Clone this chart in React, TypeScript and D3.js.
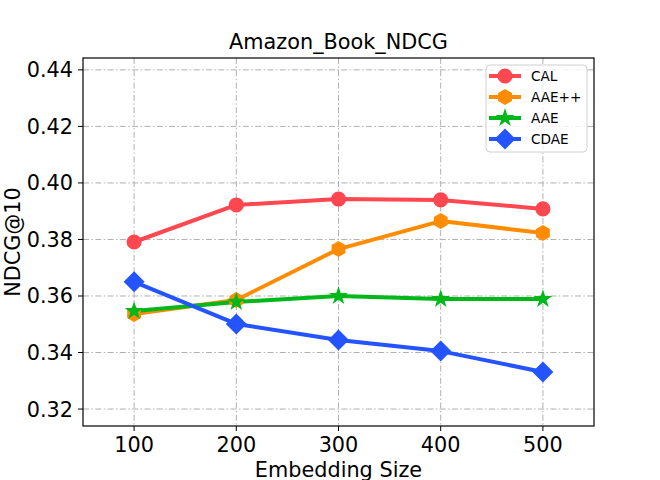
import React from "react";
import * as d3 from "d3";

const sizes = [100, 200, 300, 400, 500];
const calValues = [0.3791, 0.3922, 0.3943, 0.394, 0.3908];
const aaePPValues = [0.3536, 0.3586, 0.3766, 0.3865, 0.3823];
const aaeValues = [0.3547, 0.3579, 0.36, 0.3589, 0.3589];
const cdaeValues = [0.365, 0.3501, 0.3444, 0.3405, 0.3331];
const yTicks = [0.32, 0.34, 0.36, 0.38, 0.4, 0.42, 0.44];

const series = [
  { name: "CAL", values: calValues, color: "#ff474f", marker: "circle" },
  { name: "AAE++", values: aaePPValues, color: "#ff8c00", marker: "hexagon" },
  { name: "AAE", values: aaeValues, color: "#00b81a", marker: "star" },
  { name: "CDAE", values: cdaeValues, color: "#2454ff", marker: "diamond" },
];

const W = 660;
const H = 480;
const margin = { top: 58, right: 66, bottom: 54, left: 83 };
const font = "DejaVu Sans, sans-serif";
const fs = 20.8;

function markerPath(type: string): string {
  if (type === "circle") return d3.symbol(d3.symbolCircle, 180)()!;
  if (type === "star") return d3.symbol(d3.symbolStar, 110)()!;
  if (type === "diamond") {
    const r = 10.5;
    return `M0,${-r}L${r},0L0,${r}L${-r},0Z`;
  }
  // hexagon, pointy top
  const r = 8;
  const pts = d3.range(6).map((i) => {
    const a = (Math.PI / 3) * i - Math.PI / 2;
    return [r * Math.cos(a), r * Math.sin(a)];
  });
  return "M" + pts.map((p) => p.join(",")).join("L") + "Z";
}

export default function App() {
  const x = d3.scaleLinear().domain([50, 550]).range([margin.left, W - margin.right]);
  const y = d3.scaleLinear().domain([0.314, 0.4442]).range([H - margin.bottom, margin.top]);
  const line = d3
    .line<number>()
    .x((_, i) => x(sizes[i]))
    .y((d) => y(d));

  const grid = "6,2.4,1.5,2.4";

  return (
    <svg width={W} height={H} style={{ position: "absolute", left: 0, top: 0 }} fontFamily={font}>
      <rect width={W} height={H} fill="#fff" />
      {/* grid */}
      {sizes.map((s) => (
        <line key={"gx" + s} x1={x(s)} x2={x(s)} y1={margin.top} y2={H - margin.bottom}
          stroke="#b0b0b0" strokeWidth={1} strokeDasharray={grid} />
      ))}
      {yTicks.map((t) => (
        <line key={"gy" + t} x1={margin.left} x2={W - margin.right} y1={y(t)} y2={y(t)}
          stroke="#b0b0b0" strokeWidth={1} strokeDasharray={grid} />
      ))}
      {/* lines */}
      {series.map((s) => (
        <path key={s.name} d={line(s.values)!} fill="none" stroke={s.color} strokeWidth={4}
          strokeLinejoin="round" />
      ))}
      {series.map((s) =>
        s.values.map((v, i) => (
          <path key={s.name + i} d={markerPath(s.marker)} transform={`translate(${x(sizes[i])},${y(v)})`}
            fill={s.color} />
        ))
      )}
      {/* frame */}
      <rect x={margin.left} y={margin.top} width={W - margin.left - margin.right}
        height={H - margin.top - margin.bottom} fill="none" stroke="#000" strokeWidth={1.2} />
      {/* ticks */}
      {sizes.map((s) => (
        <g key={"tx" + s}>
          <line x1={x(s)} x2={x(s)} y1={H - margin.bottom} y2={H - margin.bottom + 5} stroke="#000" />
          <text x={x(s)} y={H - margin.bottom + 26} textAnchor="middle" fontSize={fs}>{s}</text>
        </g>
      ))}
      {yTicks.map((t) => (
        <g key={"ty" + t}>
          <line x1={margin.left - 5} x2={margin.left} y1={y(t)} y2={y(t)} stroke="#000" />
          <text x={margin.left - 10} y={y(t) + 7.5} textAnchor="end" fontSize={fs}>{t.toFixed(2)}</text>
        </g>
      ))}
      <text x={(margin.left + W - margin.right) / 2} y={477} textAnchor="middle" fontSize={fs}>Embedding Size</text>
      <text transform={`translate(20,${(margin.top + H - margin.bottom) / 2}) rotate(-90)`} textAnchor="middle"
        fontSize={fs}>NDCG@10</text>
      <text x={(margin.left + W - margin.right) / 2} y={49} textAnchor="middle" fontSize={fs}>Amazon_Book_NDCG</text>
      {/* legend */}
      <g>
        <rect x={486} y={65} width={101} height={87} rx={4} fill="#fff" fillOpacity={0.8}
          stroke="#d0d0d0" strokeWidth={1} />
        {series.map((s, i) => {
          const ly = 76 + i * 21;
          return (
            <g key={"lg" + s.name}>
              <line x1={489} x2={521} y1={ly} y2={ly} stroke={s.color} strokeWidth={4} />
              <path d={markerPath(s.marker)} transform={`translate(505,${ly})`} fill={s.color} />
              <text x={531} y={ly + 5} fontSize={13.6}>{s.name}</text>
            </g>
          );
        })}
      </g>
    </svg>
  );
}
